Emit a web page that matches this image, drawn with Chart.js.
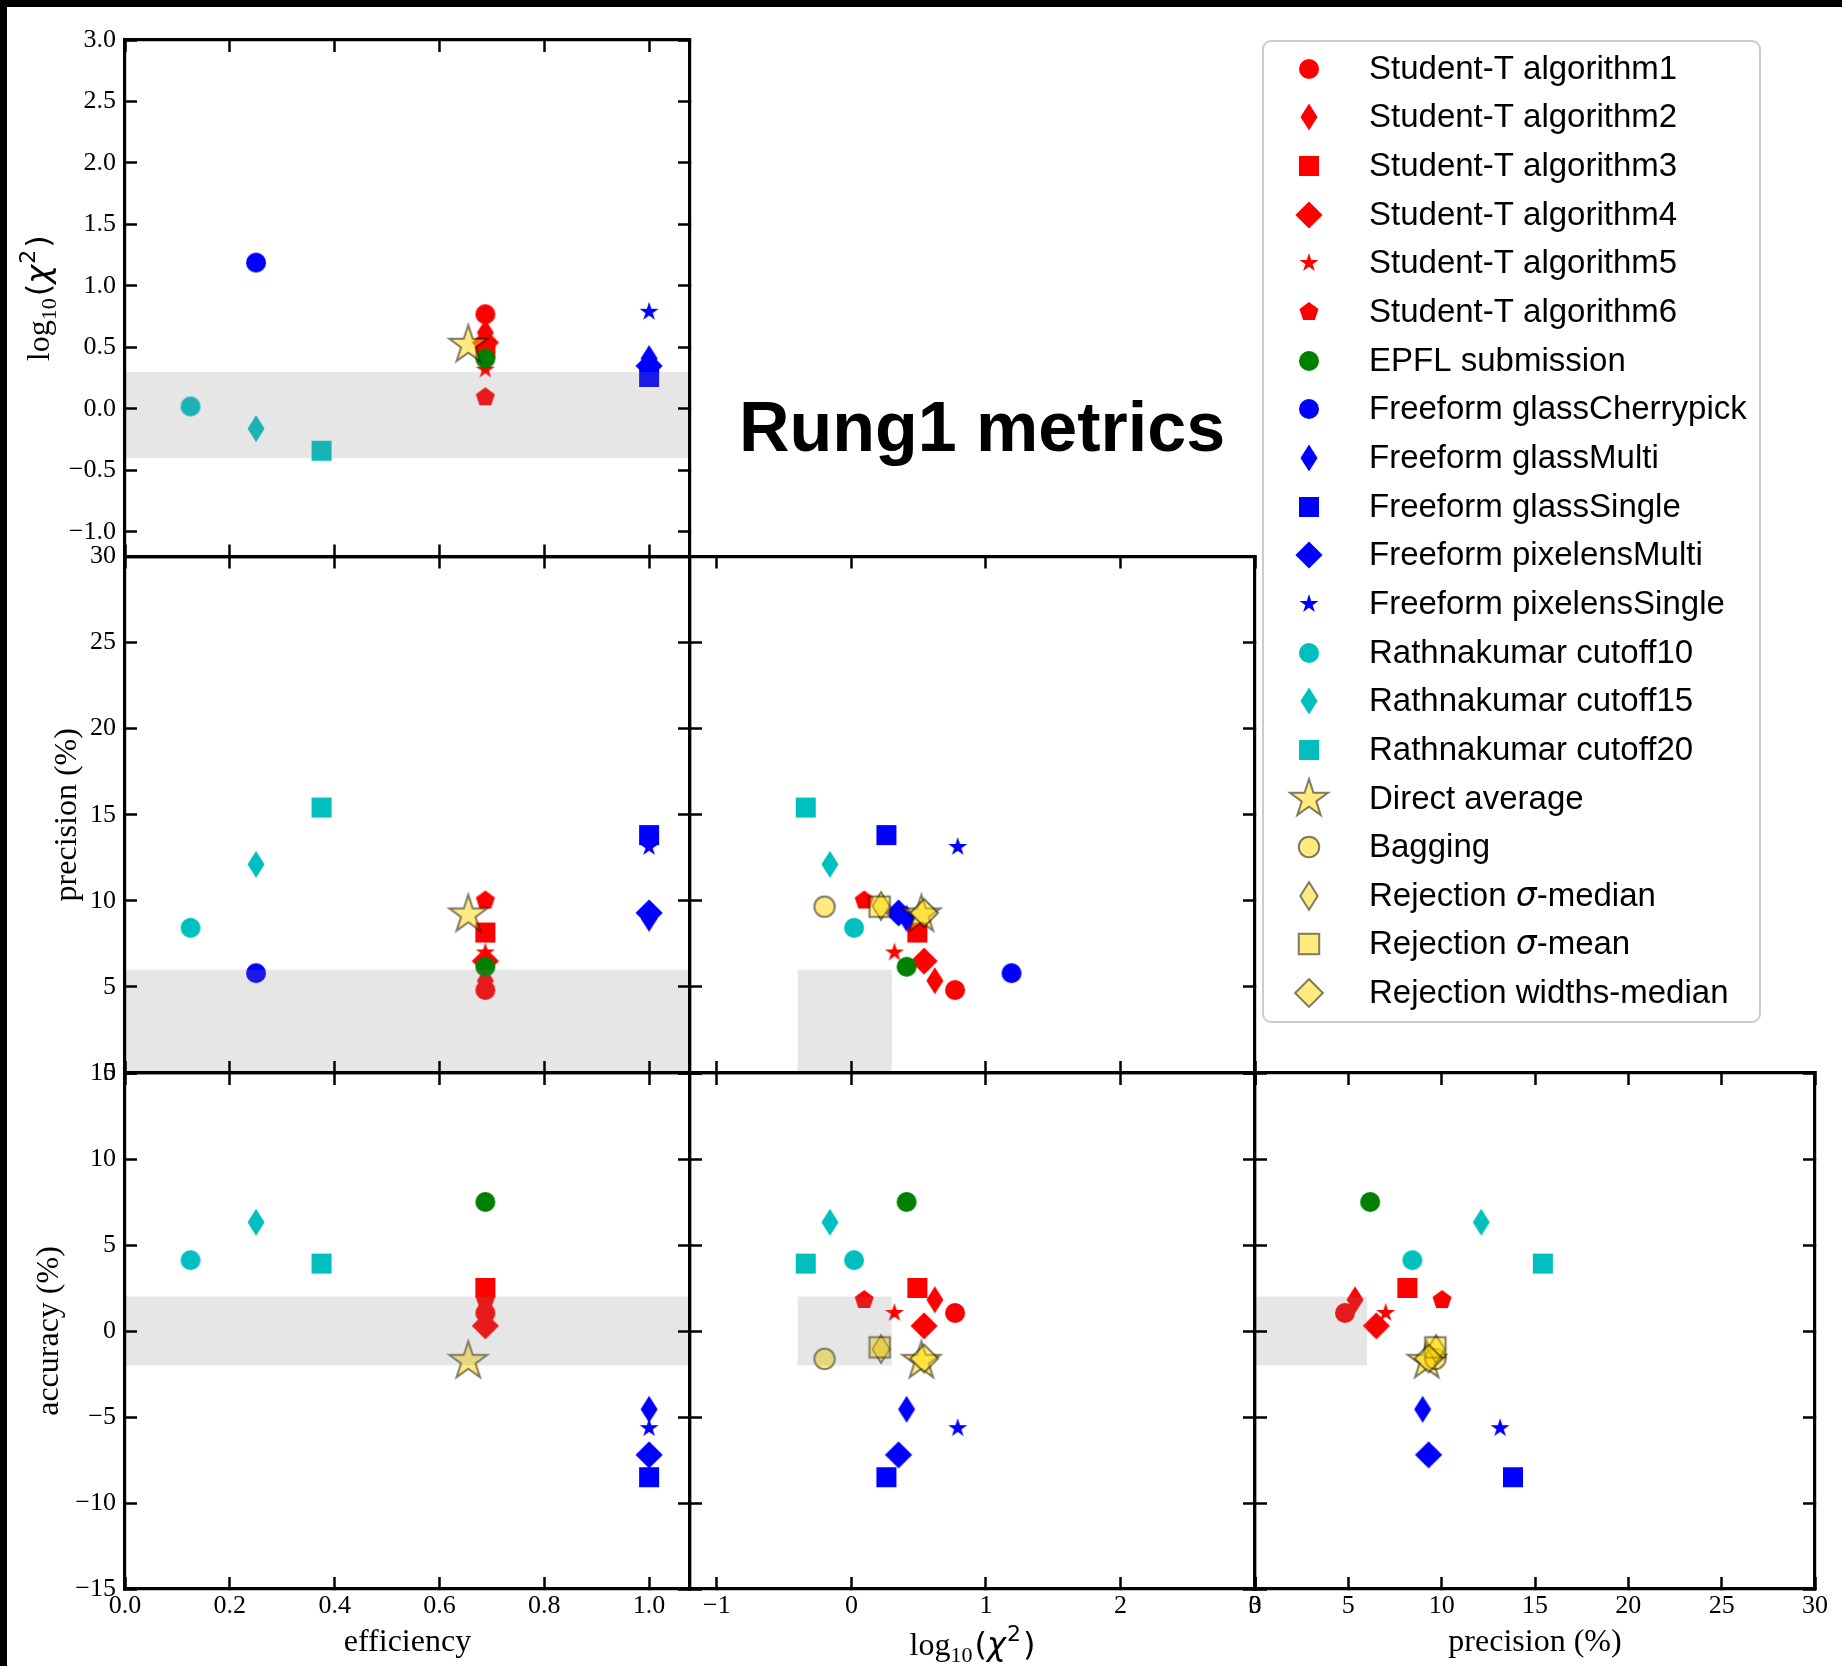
<!DOCTYPE html>
<html>
<head>
<meta charset="utf-8">
<script src="https://cdn.jsdelivr.net/npm/chart.js@4.4.1/dist/chart.umd.min.js"></script>
<style>
html, body { margin: 0; padding: 0; background: #fff; width: 1842px; height: 1666px; overflow: hidden; }
#wrap { position: relative; width: 1842px; height: 1666px; background: #fff; }
#wrap canvas { position: absolute; left: 0; top: 0; }
.bar { position: absolute; background: #000; z-index: 50; }
</style>
</head>
<body>
<div id="wrap">
  <div class="bar" style="left:0;top:0;width:1842px;height:7px"></div>
  <div class="bar" style="left:0;top:0;width:7px;height:1666px"></div>
</div>
<script>
// ---------------- DATA ----------------
const methods = [
  "Student-T algorithm1", "Student-T algorithm2", "Student-T algorithm3",
  "Student-T algorithm4", "Student-T algorithm5", "Student-T algorithm6",
  "EPFL submission", "Freeform glassCherrypick", "Freeform glassMulti",
  "Freeform glassSingle", "Freeform pixelensMulti", "Freeform pixelensSingle",
  "Rathnakumar cutoff10", "Rathnakumar cutoff15", "Rathnakumar cutoff20",
  "Direct average", "Bagging", "Rejection σ-median", "Rejection σ-mean",
  "Rejection widths-median"
];
const efficiency = [0.6875, 0.6875, 0.6875, 0.6875, 0.6875, 0.6875, 0.6875,
  0.25, 1.0, 1.0, 1.0, 1.0, 0.125, 0.25, 0.375, 0.655, null, null, null, null];
const log10Chi2 = [0.77, 0.62, 0.49, 0.54, 0.32, 0.095, 0.41,
  1.19, 0.41, 0.26, 0.35, 0.79, 0.02, -0.16, -0.34, 0.52, -0.20, 0.22, 0.21, 0.54];
const precision = [4.82, 5.36, 8.16, 6.50, 7.00, 10.02, 6.17,
  5.80, 8.98, 13.82, 9.30, 13.13, 8.43, 12.12, 15.42, 9.20, 9.66, 9.70, 9.66, 9.30];
const accuracy = [1.05, 1.82, 2.50, 0.30, 1.05, 1.80, 7.50,
  null, -4.55, -8.50, -7.20, -5.65, 4.12, 6.32, 3.92, -1.75, -1.62, -1.05, -0.95, -1.60];

const efficiencyTicks = [0, 0.2, 0.4, 0.6, 0.8, 1.0];
const efficiencyTickLabels = ["0.0", "0.2", "0.4", "0.6", "0.8", "1.0"];
const chi2TicksY = [-1.0, -0.5, 0.0, 0.5, 1.0, 1.5, 2.0, 2.5, 3.0];
const chi2TickLabelsY = ["−1.0", "−0.5", "0.0", "0.5", "1.0", "1.5", "2.0", "2.5", "3.0"];
const chi2TicksX = [-1, 0, 1, 2, 3];
const chi2TickLabelsX = ["−1", "0", "1", "2", "3"];
const precisionTicks = [0, 5, 10, 15, 20, 25, 30];
const precisionTickLabels = ["0", "5", "10", "15", "20", "25", "30"];
const accuracyTicks = [-15, -10, -5, 0, 5, 10, 15];
const accuracyTickLabels = ["−15", "−10", "−5", "0", "5", "10", "15"];

const goodChi2 = [-0.4, 0.3];
const goodPrecision = [0, 6];
const goodAccuracy = [-2, 2];

const chartTitle = "Rung1 metrics";

// ---------------- STYLES ----------------
const markerShape = ['o','d','s','D','*','p','o','o','d','s','D','*','o','d','s','*','o','d','s','D'];
const markerGroup = ['red','red','red','red','red','red','green','blue','blue','blue','blue','blue',
  'cyan','cyan','cyan','ens','ens','ens','ens','ens'];
const GROUP_COLOR = { red: '#ff0000', green: '#008000', blue: '#0000ff', cyan: '#00bfbf' };

function makeMarker(shape, M, fill, stroke, lw) {
  let size = Math.ceil((M * 0.75 + lw + 3) * 2);
  if (size % 2) size++;
  const c = document.createElement('canvas');
  c.width = size; c.height = size;
  const g = c.getContext('2d');
  g.translate(size / 2, size / 2);
  g.beginPath();
  const R = M / 2;
  const poly = pts => { pts.forEach((p, k) => k ? g.lineTo(p[0], p[1]) : g.moveTo(p[0], p[1])); };
  if (shape === 'o') {
    g.arc(0, 0, R, 0, Math.PI * 2);
  } else if (shape === 's') {
    g.rect(-R, -R, M, M);
  } else if (shape === 'D') {
    const h = M * 0.68; poly([[0, -h], [h, 0], [0, h], [-h, 0]]);
  } else if (shape === 'd') {
    const h = M * 0.68, w = M * 0.425; poly([[0, -h], [w, 0], [0, h], [-w, 0]]);
  } else if (shape === 'p') {
    const pts = [];
    for (let k = 0; k < 5; k++) { const a = Math.PI / 2 + k * 2 * Math.PI / 5; pts.push([R * Math.cos(a), -R * Math.sin(a)]); }
    poly(pts);
  } else if (shape === '*') {
    const pts = [], r = R * 0.381966;
    for (let k = 0; k < 10; k++) { const a = Math.PI / 2 + k * Math.PI / 5; const rr = k % 2 ? r : R; pts.push([rr * Math.cos(a), -rr * Math.sin(a)]); }
    poly(pts);
  }
  g.closePath();
  g.fillStyle = fill; g.fill();
  if (stroke) { g.lineWidth = lw; g.strokeStyle = stroke; g.lineJoin = 'miter'; g.stroke(); }
  return c;
}
const markers = methods.map((m, i) => {
  const grp = markerGroup[i], shape = markerShape[i];
  if (grp === 'ens') return makeMarker(shape, shape === '*' ? 40 : 20.5, 'rgba(255,215,0,0.5)', 'rgba(0,0,0,0.5)', 2);
  return makeMarker(shape, 20, GROUP_COLOR[grp], null, 0);
});

// ---------------- LAYOUT ----------------
const W = 1842, H = 1666;
const COLS = [[125, 690], [690, 1255], [1255, 1819]];
const ROWS = [[40, 556.5], [556.5, 1073], [1073, 1589]];

const METRIC = {
  eff:  { values: efficiency, min: 0, max: 1.078, band: null, title: 'efficiency', titleY: 1643 },
  chi:  { values: log10Chi2, min: -1.2, max: 3.0, band: goodChi2, math: true, titleX: 49, titleY: 1655 },
  prec: { values: precision, min: 0, max: 30, band: goodPrecision, title: 'precision (%)', titleX: 68, titleY: 1643 },
  acc:  { values: accuracy, min: -15, max: 15, band: goodAccuracy, title: 'accuracy (%)', titleX: 50 }
};
function tickSet(key, horizontal) {
  if (key === 'eff') return [efficiencyTicks, efficiencyTickLabels];
  if (key === 'chi') return horizontal ? [chi2TicksX, chi2TickLabelsX] : [chi2TicksY, chi2TickLabelsY];
  if (key === 'prec') return [precisionTicks, precisionTickLabels];
  return [accuracyTicks, accuracyTickLabels];
}

const PANELS = [
  { col: 0, row: 0, x: 'eff', y: 'chi', showX: false, showY: true },
  { col: 0, row: 1, x: 'eff', y: 'prec', showX: false, showY: true },
  { col: 1, row: 1, x: 'chi', y: 'prec', showX: false, showY: false },
  { col: 0, row: 2, x: 'eff', y: 'acc', showX: true, showY: true },
  { col: 1, row: 2, x: 'chi', y: 'acc', showX: true, showY: false },
  { col: 2, row: 2, x: 'prec', y: 'acc', showX: true, showY: false }
];

const SERIF = '"Liberation Serif", "Times New Roman", serif';
const TICK_FONT = { family: SERIF, size: 26, lineHeight: 1.2 };
const TITLE_FONT = { family: SERIF, size: 32, lineHeight: 1 };

function axisCfg(pos, key, showLabels, fixed) {
  const horizontal = pos === 'top' || pos === 'bottom';
  const m = METRIC[key];
  const [tv, tl] = tickSet(key, horizontal);
  const cfg = {
    type: 'linear', axis: horizontal ? 'x' : 'y', position: pos,
    min: m.min, max: m.max, bounds: 'data', display: true,
    afterBuildTicks: s => { s.ticks = tv.map(v => ({ value: v })); },
    afterFit: s => { if (horizontal) s.height = fixed; else s.width = fixed; },
    ticks: {
      display: showLabels, autoSkip: false, maxRotation: 0, minRotation: 0,
      padding: horizontal ? 14 : 21, color: '#000', font: TICK_FONT,
      callback: (v, i) => tl[i]
    },
    grid: { display: true, drawOnChartArea: false, drawTicks: true, tickLength: -12,
      tickWidth: 2.5, tickColor: '#000', z: 1 },
    border: { display: true, color: '#000', width: 3.2, z: 1 },
    title: { display: false }
  };
  if (showLabels && !m.math && pos === 'bottom') {
    cfg.title = { display: true, text: m.title, color: '#000', font: TITLE_FONT,
      padding: { top: 0, bottom: H - m.titleY - TITLE_FONT.size / 2 } };
  }
  if (showLabels && !m.math && pos === 'left') {
    cfg.title = { display: true, text: m.title, color: '#000', font: TITLE_FONT,
      padding: { top: m.titleX - TITLE_FONT.size / 2, bottom: 0 } };
  }
  return cfg;
}

// log10(chi^2) title with sub/superscripts
const MATH_SEGMENTS = [
  { t: 'log', font: '32px ' + SERIF, dy: 0 },
  { t: '10', font: '22px ' + SERIF, dy: 7, gap: 2 },
  { t: '(', font: '32px "DejaVu Sans", sans-serif', dy: 0 },
  { t: 'χ', font: 'italic 32px "DejaVu Sans", sans-serif', dy: 0, gap: 1 },
  { t: '2', font: '22px "DejaVu Sans", sans-serif', dy: -14, gap: 2 },
  { t: ')', font: '32px "DejaVu Sans", sans-serif', dy: 0 }
];
function drawMathTitle(ctx, cx, baseline, rotated) {
  ctx.save();
  ctx.fillStyle = '#000'; ctx.textBaseline = 'alphabetic'; ctx.textAlign = 'left';
  let total = 0;
  MATH_SEGMENTS.forEach(s => { ctx.font = s.font; total += ctx.measureText(s.t).width + (s.gap || 0); });
  if (rotated) { ctx.translate(baseline, cx); ctx.rotate(-Math.PI / 2); }
  else { ctx.translate(cx, baseline); }
  let x = -total / 2;
  MATH_SEGMENTS.forEach(s => { ctx.font = s.font; ctx.fillText(s.t, x, s.dy); x += ctx.measureText(s.t).width + (s.gap || 0); });
  ctx.restore();
}

const bandPlugin = {
  id: 'bandShade',
  afterDatasetsDraw(chart, args, opts) {
    const { ctx, chartArea: a, scales } = chart;
    const xs = scales.x, ys = scales.y;
    const x0 = opts.x ? xs.getPixelForValue(opts.x[0]) : a.left;
    const x1 = opts.x ? xs.getPixelForValue(opts.x[1]) : a.right;
    const y0 = opts.y ? ys.getPixelForValue(opts.y[1]) : a.top;
    const y1 = opts.y ? ys.getPixelForValue(opts.y[0]) : a.bottom;
    ctx.save();
    ctx.beginPath(); ctx.rect(a.left, a.top, a.right - a.left, a.bottom - a.top); ctx.clip();
    ctx.fillStyle = 'rgba(128,128,128,0.2)';
    ctx.fillRect(x0, y0, x1 - x0, y1 - y0);
    ctx.restore();
  },
  afterDraw(chart, args, opts) {
    const a = chart.chartArea;
    if (opts.mathX) drawMathTitle(chart.ctx, (a.left + a.right) / 2, METRIC.chi.titleY, false);
    if (opts.mathY) drawMathTitle(chart.ctx, (a.top + a.bottom) / 2, METRIC.chi.titleX, true);
  }
};

const wrap = document.getElementById('wrap');
function newCanvas() {
  const cv = document.createElement('canvas');
  cv.width = W; cv.height = H;
  cv.style.width = W + 'px'; cv.style.height = H + 'px';
  wrap.appendChild(cv);
  return cv;
}
const N = methods.length;

PANELS.forEach(p => {
  const cv = newCanvas();
  const [L, R] = COLS[p.col], [T, B] = ROWS[p.row];
  const xv = METRIC[p.x].values, yv = METRIC[p.y].values;
  const datasets = methods.map((name, i) => ({
    label: name,
    data: (xv[i] != null && yv[i] != null) ? [{ x: xv[i], y: yv[i] }] : [],
    pointStyle: markers[i], pointRadius: 10, pointHoverRadius: 10,
    pointBorderWidth: 0, showLine: false, order: N - i,
    backgroundColor: 'rgba(0,0,0,0)', borderColor: 'rgba(0,0,0,0)'
  }));
  new Chart(cv, {
    type: 'scatter',
    data: { datasets },
    options: {
      responsive: false, animation: false, events: [],
      layout: { padding: 0 },
      plugins: {
        legend: { display: false }, tooltip: { enabled: false },
        bandShade: { x: METRIC[p.x].band, y: METRIC[p.y].band,
          mathX: p.showX && METRIC[p.x].math, mathY: p.showY && METRIC[p.y].math }
      },
      scales: {
        x: axisCfg('bottom', p.x, p.showX, H - B),
        xt: axisCfg('top', p.x, false, T),
        y: axisCfg('left', p.y, p.showY, L),
        yr: axisCfg('right', p.y, false, W - R)
      }
    },
    plugins: [bandPlugin]
  });
});

// ---------------- LEGEND + TITLE ----------------
const LEG = { x: 1263, y: 41, w: 497, h: 981, r: 8, markerX: 1309, textX: 1369, row0: 68.6, step: 48.66, baseOff: 10 };
const legendPlugin = {
  id: 'legendTitle',
  afterDraw(chart) {
    const ctx = chart.ctx;
    ctx.save();
    const { x, y, w, h, r } = LEG;
    ctx.beginPath();
    ctx.moveTo(x + r, y); ctx.lineTo(x + w - r, y); ctx.arcTo(x + w, y, x + w, y + r, r);
    ctx.lineTo(x + w, y + h - r); ctx.arcTo(x + w, y + h, x + w - r, y + h, r);
    ctx.lineTo(x + r, y + h); ctx.arcTo(x, y + h, x, y + h - r, r);
    ctx.lineTo(x, y + r); ctx.arcTo(x, y, x + r, y, r); ctx.closePath();
    ctx.fillStyle = 'rgba(255,255,255,0.8)'; ctx.fill();
    ctx.strokeStyle = '#cccccc'; ctx.lineWidth = 2; ctx.stroke();
    const NORMAL = '33px "Liberation Sans", Arial, sans-serif';
    const ITALIC = 'italic 33px "DejaVu Sans", sans-serif';
    ctx.fillStyle = '#000'; ctx.textAlign = 'left'; ctx.textBaseline = 'alphabetic';
    chart.data.datasets.forEach((ds, i) => {
      const cy = LEG.row0 + i * LEG.step;
      const img = ds.pointStyle;
      ctx.drawImage(img, Math.round(LEG.markerX - img.width / 2), Math.round(cy - img.height / 2));
      const parts = ds.label.split('σ');
      let cx = LEG.textX;
      parts.forEach((part, k) => {
        if (k > 0) { ctx.font = ITALIC; ctx.fillText('σ', cx, cy + LEG.baseOff); cx += ctx.measureText('σ').width; }
        ctx.font = NORMAL; ctx.fillText(part, cx, cy + LEG.baseOff); cx += ctx.measureText(part).width;
      });
    });
    ctx.font = 'bold 70px "Liberation Sans", Arial, sans-serif';
    ctx.textAlign = 'center'; ctx.textBaseline = 'alphabetic';
    ctx.fillText(chartTitle, 982, 451);
    ctx.restore();
  }
};
new Chart(newCanvas(), {
  type: 'scatter',
  data: { datasets: methods.map((name, i) => ({ label: name, data: [], pointStyle: markers[i], pointRadius: 10 })) },
  options: {
    responsive: false, animation: false, events: [],
    plugins: { legend: { display: false }, tooltip: { enabled: false } },
    scales: { x: { display: false }, y: { display: false } }
  },
  plugins: [legendPlugin]
});
</script>
</body>
</html>
